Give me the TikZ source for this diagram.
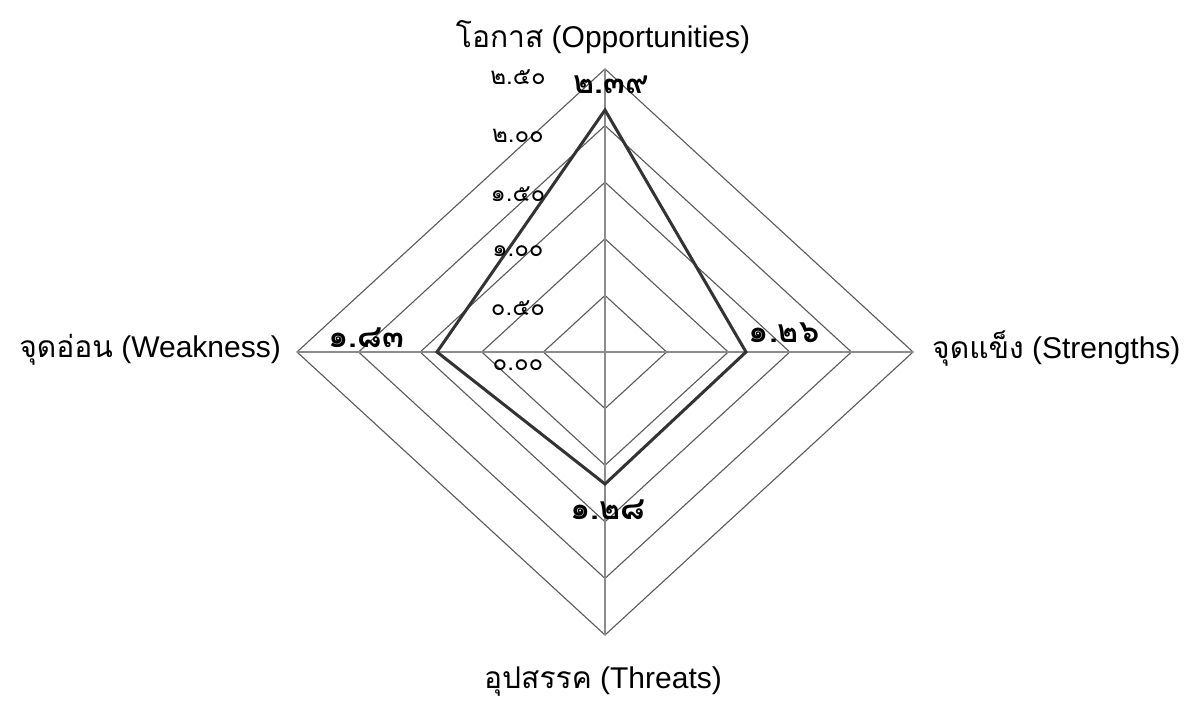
\documentclass[tikz,border=0pt]{standalone}
\usepackage{fontspec}
\setmainfont{Liberation Sans}
\newfontfamily\thaifont[Script=Thai]{Loma}
\begin{document}
\begin{tikzpicture}[x=1pt,y=-1pt,
  gridline/.style={draw=black!65,line width=1.1pt},
  axisline/.style={draw=black!45,line width=2pt},
  dataline/.style={draw=black!80,line width=3pt,line join=miter},
  ticklab/.style={font=\thaifont\fontsize{24}{24}\selectfont,inner sep=0pt,text=black},
  vallab/.style={font=\thaifont\bfseries\fontsize{32}{32}\selectfont,inner sep=0pt},
  axlab/.style={font=\fontsize{30}{30}\selectfont,inner sep=0pt,anchor=base}]
\useasboundingbox (0,0) rectangle (1185,703);
\fill[white] (0,0) rectangle (1185,703);
\coordinate (C) at (605,352);
% grid diamonds
\foreach \k in {1,...,5}{
  \draw[gridline] ({605},{352-56.6*\k}) -- ({605+61.6*\k},352) -- (605,{352+56.6*\k}) -- ({605-61.6*\k},352) -- cycle;
}
% axes
\coordinate (aT) at (605,69);
\coordinate (aB) at (605,635);
\coordinate (aL) at (297,352);
\coordinate (aR) at (913,352);
\draw[axisline] (aT) -- (aB);
\draw[axisline] (aL) -- (aR);
% data
\coordinate (dO) at (605,110);
\coordinate (dS) at (746,352);
\coordinate (dT) at (605,484);
\coordinate (dW) at (437,352);
\draw[dataline] (dO) -- (dS) -- (dT) -- (dW) -- cycle;
% tick labels
\node[ticklab] (t250) at (518,77) {๒.๕๐};
\node[ticklab] (t200) at (518,136) {๒.๐๐};
\node[ticklab] (t150) at (518,194) {๑.๕๐};
\node[ticklab] (t100) at (518,251) {๑.๐๐};
\node[ticklab] (t050) at (518,308) {๐.๕๐};
\node[ticklab] (t000) at (518,365) {๐.๐๐};
% value labels
\node[vallab] (vO) at (611,85) {๒.๓๙};
\node[vallab] (vS) at (784,333) {๑.๒๖};
\node[vallab] (vT) at (608,510) {๑.๒๘};
\node[vallab] (vW) at (366,338) {๑.๘๓};
% axis titles
\node[axlab] (lO) at (603,48) {{\thaifont โอกาส} (Opportunities)};
\node[axlab,anchor=base west] (lS) at (932,358) {{\thaifont จุดแข็ง} (Strengths)};
\node[axlab,anchor=base east] (lW) at (281,357) {{\thaifont จุดอ่อน} (Weakness)};
\node[axlab] (lT) at (603,688) {{\thaifont อุปสรรค} (Threats)};
\end{tikzpicture}
\end{document}
